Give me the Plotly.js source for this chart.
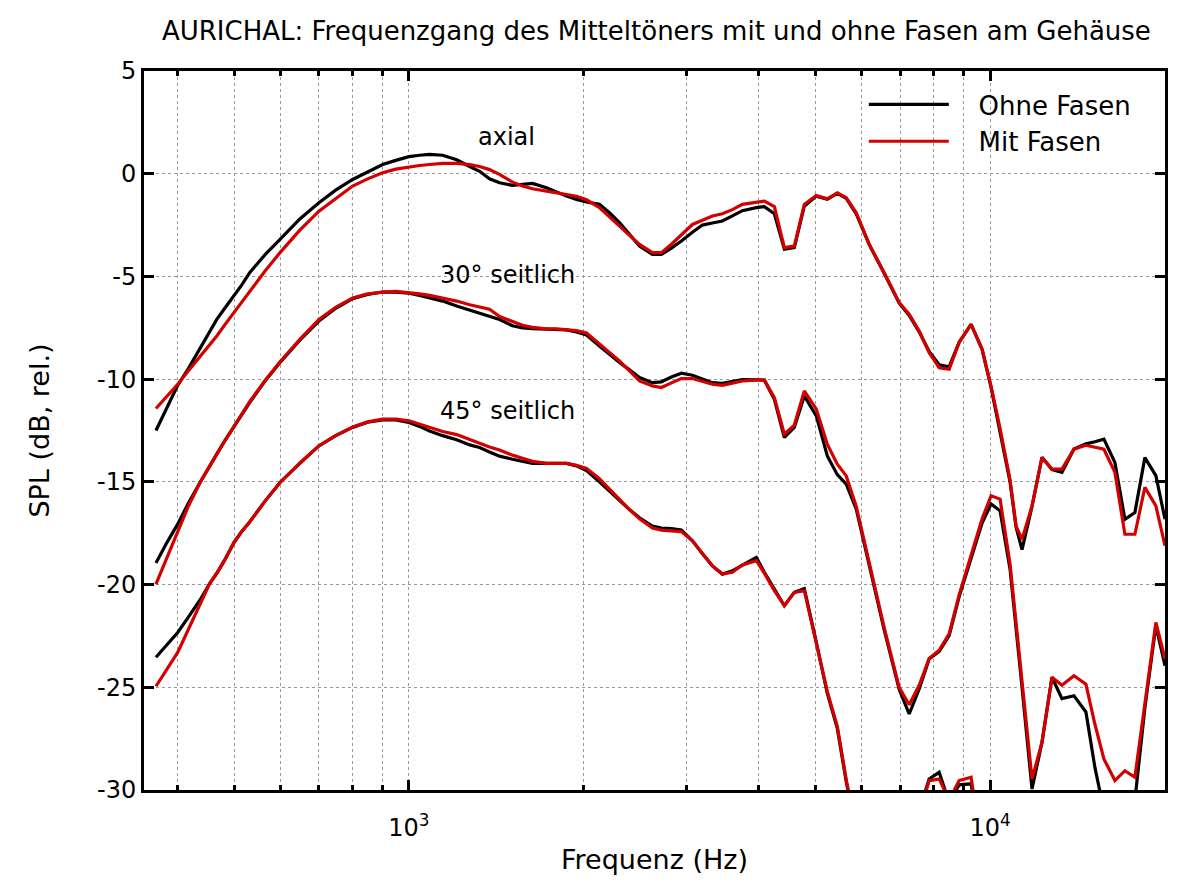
<!DOCTYPE html>
<html>
<head>
<meta charset="utf-8">
<script src="https://cdn.plot.ly/plotly-3.0.1.min.js"></script>
<style>
  html, body { margin: 0; padding: 0; background: #fff; }
  #chart { width: 1187px; height: 895px; }
</style>
</head>
<body>
<div id="chart"></div>
<script>
// Frequencies (Hz)
const freq = [367,383,400,417,437,454,467,482,500,516,532,565,600,649,700,748,800,849,901,949,
  1000,1043,1085,1143,1208,1272,1323,1376,1432,1507,1568,1632,1725,1794,1867,1942,2021,2127,2213,2303,
  2396,2493,2624,2719,2829,2943,3075,3199,3328,3462,3602,3748,3961,4089,4254,4426,4604,4790,5023,5247,
  5459,5656,5885,6195,6574,6976,7258,7551,7856,8173,8503,8846,9276,9689,10040,10404,10824,11084,11350,11808,
  12284,12780,13296,13943,14620,15150,15700,16400,17062,17751,18468,19290,20000];

// axial, ohne Fasen
const axialOhne = [-12.5,-11.4,-10.3,-9.5,-8.5,-7.65,-7.09,-6.55,-5.95,-5.4,-4.82,-3.95,-3.2,-2.2,-1.41,-0.8,-0.28,0.1,0.45,0.65,
  0.83,0.9,0.94,0.9,0.68,0.35,0.12,-0.25,-0.44,-0.57,-0.52,-0.47,-0.68,-0.9,-1.09,-1.25,-1.38,-1.49,-1.9,-2.38,
  -2.95,-3.52,-3.93,-3.93,-3.62,-3.28,-2.85,-2.5,-2.4,-2.3,-2.05,-1.8,-1.65,-1.6,-1.95,-3.68,-3.6,-1.58,-1.09,-1.25,
  -0.96,-1.2,-1.95,-3.45,-4.85,-6.3,-6.9,-7.7,-8.65,-9.3,-9.4,-8.2,-7.33,-8.55,-10.4,-12.5,-15.0,-17.2,-18.3,-16.2,
  -13.8,-14.4,-14.54,-13.4,-13.15,-13.05,-12.92,-14.06,-16.82,-16.49,-13.82,-14.7,-16.82];
// axial, mit Fasen
const axialMit = [-11.43,-10.85,-10.25,-9.6,-8.9,-8.3,-7.9,-7.36,-6.76,-6.22,-5.71,-4.75,-3.84,-2.75,-1.82,-1.2,-0.6,-0.25,0.05,0.22,
  0.34,0.4,0.45,0.5,0.5,0.44,0.35,0.2,-0.03,-0.41,-0.6,-0.73,-0.85,-0.92,-1.01,-1.1,-1.27,-1.65,-2.08,-2.55,
  -3.0,-3.44,-3.84,-3.84,-3.43,-3.0,-2.47,-2.27,-2.06,-1.95,-1.75,-1.49,-1.41,-1.33,-1.6,-3.6,-3.52,-1.49,-1.06,-1.22,
  -0.93,-1.17,-1.9,-3.44,-4.82,-6.27,-6.84,-7.66,-8.71,-9.45,-9.52,-8.22,-7.33,-8.55,-10.35,-12.4,-14.9,-17.14,-17.8,-16.17,
  -13.82,-14.38,-14.38,-13.41,-13.22,-13.3,-13.41,-14.54,-17.55,-17.55,-15.27,-16.17,-18.11];
// 30 Grad seitlich, ohne Fasen
const seit30Ohne = [-18.95,-17.97,-17.06,-16.05,-15.03,-14.2,-13.65,-13.0,-12.3,-11.7,-11.14,-10.1,-9.19,-8.1,-7.17,-6.55,-6.08,-5.88,-5.76,-5.76,
  -5.82,-5.92,-6.03,-6.2,-6.44,-6.65,-6.8,-6.93,-7.1,-7.4,-7.5,-7.54,-7.57,-7.57,-7.6,-7.7,-7.85,-8.39,-8.8,-9.19,
  -9.55,-9.92,-10.17,-10.13,-9.9,-9.71,-9.81,-10.0,-10.17,-10.2,-10.1,-10.02,-10.03,-10.05,-10.98,-12.84,-12.35,-10.82,-11.79,-13.74,
  -14.65,-15.11,-16.33,-19.09,-22.2,-25.1,-26.3,-25.08,-23.62,-23.25,-22.49,-20.6,-18.7,-17.0,-16.08,-16.41,-19.25,-22.0,-25.0,-29.95,
  -27.68,-24.51,-25.55,-25.41,-26.2,-28.9,-31.0,-32.0,-32.0,-30.5,-26.0,-22.0,-23.95];
// 30 Grad seitlich, mit Fasen
const seit30Mit = [-19.98,-18.7,-17.46,-16.2,-15.03,-14.2,-13.65,-13.0,-12.28,-11.68,-11.1,-10.08,-9.15,-8.06,-7.1,-6.5,-6.05,-5.85,-5.76,-5.73,
  -5.78,-5.85,-5.92,-6.05,-6.2,-6.38,-6.5,-6.6,-6.95,-7.2,-7.38,-7.48,-7.55,-7.55,-7.58,-7.64,-7.75,-8.31,-8.7,-9.11,
  -9.6,-10.09,-10.33,-10.41,-10.18,-9.97,-9.97,-10.12,-10.25,-10.3,-10.2,-10.09,-10.05,-10.05,-10.9,-12.68,-12.24,-10.57,-11.46,-13.17,
  -14.14,-14.71,-16.2,-19.0,-22.1,-25.0,-25.85,-24.9,-23.6,-23.2,-22.4,-20.5,-18.5,-16.8,-15.68,-15.84,-19.0,-21.9,-24.9,-29.46,
  -27.68,-24.51,-24.9,-24.44,-24.85,-26.8,-28.49,-29.54,-29.06,-29.38,-25.8,-21.84,-23.62];
// 45 Grad seitlich, ohne Fasen (null = unterhalb des sichtbaren Bereichs)
const seit45Ohne = [-23.54,-22.93,-22.33,-21.6,-20.75,-19.95,-19.45,-18.8,-17.95,-17.4,-16.95,-15.95,-15.03,-14.1,-13.25,-12.75,-12.35,-12.1,-11.98,-11.98,
  -12.11,-12.3,-12.52,-12.75,-12.95,-13.2,-13.33,-13.55,-13.75,-13.9,-14.0,-14.1,-14.1,-14.09,-14.1,-14.22,-14.45,-15.0,-15.45,-15.95,
  -16.35,-16.75,-17.15,-17.25,-17.28,-17.35,-17.87,-18.5,-19.09,-19.49,-19.33,-19.05,-18.68,-19.4,-20.25,-21.03,-20.38,-20.2,-22.8,-25.3,
  -27.0,-29.6,-32.0,null,null,null,null,-31.0,-29.46,-29.14,-30.6,-29.75,-29.7,-33.0,null,null,null,null,null,null,
  null,null,null,null,null,null,null,null,null,null,null,null,null];
// 45 Grad seitlich, mit Fasen
const seit45Mit = [-24.95,-24.1,-23.3,-22.2,-20.95,-19.95,-19.45,-18.8,-17.95,-17.4,-16.95,-15.95,-15.03,-14.08,-13.25,-12.75,-12.33,-12.08,-11.95,-11.95,
  -12.03,-12.2,-12.35,-12.55,-12.7,-12.95,-13.1,-13.3,-13.45,-13.7,-13.85,-14.0,-14.1,-14.1,-14.1,-14.2,-14.35,-14.85,-15.35,-15.9,
  -16.35,-16.8,-17.25,-17.35,-17.38,-17.42,-17.87,-18.5,-19.09,-19.49,-19.4,-19.05,-18.84,-19.45,-20.3,-21.03,-20.38,-20.3,-22.81,-25.2,
  -26.9,-29.5,-32.0,null,null,null,null,-31.2,-29.54,-29.46,-30.5,-29.54,-29.38,-33.0,null,null,null,null,null,null,
  null,null,null,null,null,null,null,null,null,null,null,null,null];

const labelOhne = 'Ohne Fasen';
const labelMit = 'Mit Fasen';
const curveLabels = ['axial', '30° seitlich', '45° seitlich'];
const majorTicks = [1000, 10000];
const majorTickText = ['10<sup>3</sup>', '10<sup>4</sup>'];
const minorTicks = [400,500,600,700,800,900,2000,3000,4000,5000,6000,7000,8000,9000];
const yTicks = [-30, -25, -20, -15, -10, -5, 0, 5];
const yTickText = ['-30', '-25', '-20', '-15', '-10', '-5', '0', '5'];

const BLACK = '#000000';
const RED = '#d40000';
const LW = 3.2;
const PAD = '\u00a0\u00a0\u00a0';

function tr(y, color, name, show) {
  return {x: freq, y: y, type: 'scatter', mode: 'lines', name: PAD + name, showlegend: show,
          legendgroup: name, line: {color: color, width: LW}, connectgaps: false, hoverinfo: 'skip'};
}

const traces = [
  tr(axialOhne, BLACK, labelOhne, true),
  tr(axialMit, RED, labelMit, true),
  tr(seit30Ohne, BLACK, labelOhne, false),
  tr(seit30Mit, RED, labelMit, false),
  tr(seit45Ohne, BLACK, labelOhne, false),
  tr(seit45Mit, RED, labelMit, false)
];

const FONT = 'DejaVu Sans, Verdana, sans-serif';
const gridStyle = {showgrid: true, gridcolor: '#9a9a9a', gridwidth: 1, griddash: 'dot'};

const layout = {
  width: 1187, height: 895,
  margin: {l: 144, r: 22, t: 71, b: 105},
  paper_bgcolor: '#fff', plot_bgcolor: '#fff',
  font: {family: FONT, color: '#000', size: 22},
  title: {text: 'AURICHAL: Frequenzgang des Mitteltöners mit und ohne Fasen am Gehäuse',
          font: {family: FONT, size: 26, color: '#000'}, x: 0.553, xanchor: 'center',
          y: 1 - 31/895, yanchor: 'middle', yref: 'container'},
  xaxis: Object.assign({
    type: 'log', range: [Math.log10(350), Math.log10(20000)],
    tickmode: 'array', tickvals: majorTicks, ticktext: majorTickText,
    ticks: 'inside', ticklen: 10, tickwidth: 3, tickcolor: '#000',
    showline: true, linewidth: 3, linecolor: '#000', mirror: 'allticks',
    zeroline: false, tickfont: {size: 24, family: FONT}, ticklabelstandoff: 14,
    title: {text: 'Frequenz (Hz)', font: {size: 27, family: FONT}, standoff: 10},
    minor: Object.assign({tickmode: 'array', tickvals: minorTicks, ticks: 'inside', ticklen: 5,
                          tickwidth: 3, tickcolor: '#000'}, gridStyle)
  }, gridStyle),
  yaxis: Object.assign({
    range: [-30, 5], tickmode: 'array', tickvals: yTicks, ticktext: yTickText,
    ticks: 'inside', ticklen: 10, tickwidth: 3, tickcolor: '#000',
    showline: true, linewidth: 3, linecolor: '#000', mirror: 'allticks',
    zeroline: false, tickfont: {size: 24, family: FONT},
    title: {text: 'SPL (dB, rel.)', font: {size: 27, family: FONT}, standoff: 40}
  }, gridStyle),
  legend: {x: 0.705, y: 0.986, xanchor: 'left', yanchor: 'top', bgcolor: 'rgba(0,0,0,0)',
           borderwidth: 0, font: {size: 26, family: FONT}, itemwidth: 80, tracegroupgap: 0},
  annotations: [
    {text: curveLabels[0], x: Math.log10(1470), y: 1.8, xref: 'x', yref: 'y', showarrow: false, font: {size: 24, family: FONT}},
    {text: curveLabels[1], x: Math.log10(1480), y: -4.95, xref: 'x', yref: 'y', showarrow: false, font: {size: 24, family: FONT}},
    {text: curveLabels[2], x: Math.log10(1480), y: -11.55, xref: 'x', yref: 'y', showarrow: false, font: {size: 24, family: FONT}}
  ],
  showlegend: true
};

Plotly.newPlot('chart', traces, layout, {displayModeBar: false, staticPlot: true});
</script>
</body>
</html>
